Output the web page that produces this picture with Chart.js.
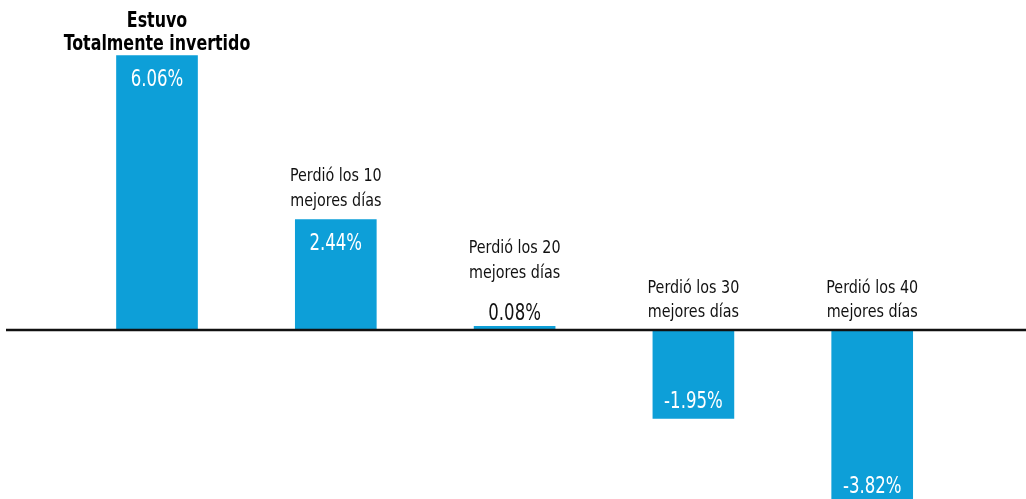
<!DOCTYPE html>
<html>
<head>
<meta charset="utf-8">
<script src="https://cdn.jsdelivr.net/npm/chart.js@4.4.0/dist/chart.umd.min.js"></script>
<style>
  html, body { margin: 0; padding: 0; background: #ffffff; }
  #wrap { width: 1026px; height: 499px; position: relative; }
</style>
</head>
<body>
<div id="wrap"><canvas id="c"></canvas></div>
<script>
const categories = [
  ["Estuvo", "Totalmente invertido"],
  ["Perdió los 10", "mejores días"],
  ["Perdió los 20", "mejores días"],
  ["Perdió los 30", "mejores días"],
  ["Perdió los 40", "mejores días"]
];
const values = [6.06, 2.44, 0.08, -1.95, -3.82];
const valueLabels = ["6.06%", "2.44%", "0.08%", "-1.95%", "-3.82%"];

const FONT = '"Liberation Sans Narrow", "DejaVu Sans Condensed", "Arial Narrow", sans-serif';
const BLUE = '#0d9fd8';

function narrowText(ctx, text, x, y, sx) {
  ctx.save();
  ctx.translate(x, y);
  ctx.scale(sx, 1);
  ctx.fillText(text, 0, 0);
  ctx.restore();
}

const labelPlugin = {
  id: 'labelPlugin',
  afterDatasetsDraw(chart) {
    const ctx = chart.ctx;
    const meta = chart.getDatasetMeta(0);
    const yScale = chart.scales.y;
    const zeroY = yScale.getPixelForValue(0);
    ctx.save();
    ctx.strokeStyle = '#111111';
    ctx.lineWidth = 2.5;
    ctx.beginPath();
    ctx.moveTo(6, zeroY);
    ctx.lineTo(chart.width, zeroY);
    ctx.stroke();

    ctx.textAlign = 'center';
    ctx.textBaseline = 'alphabetic';
    const SV = 0.80, SC = 0.86, ST = 0.84;
    meta.data.forEach((bar, i) => {
      const v = values[i];
      const x = bar.x;
      const top = Math.min(bar.y, zeroY);
      const cat = categories[i];
      if (i === 0) {
        ctx.fillStyle = '#000000';
        ctx.font = 'bold 21px ' + FONT;
        narrowText(ctx, cat[0], x, top - 28, ST);
        narrowText(ctx, cat[1], x, top - 5, ST);
      }
      if (v >= 0.5) {
        ctx.fillStyle = '#ffffff';
        ctx.font = '23px ' + FONT;
        narrowText(ctx, valueLabels[i], x, bar.y + 31, SV);
        if (i !== 0) {
          ctx.fillStyle = '#111111';
          ctx.font = '18.5px ' + FONT;
          narrowText(ctx, cat[0], x, top - 38, SC);
          narrowText(ctx, cat[1], x, top - 13.5, SC);
        }
      } else if (v >= 0) {
        ctx.fillStyle = '#111111';
        ctx.font = '23px ' + FONT;
        narrowText(ctx, valueLabels[i], x, bar.y - 6, SV);
        ctx.font = '18.5px ' + FONT;
        narrowText(ctx, cat[0], x, bar.y - 73, SC);
        narrowText(ctx, cat[1], x, bar.y - 48, SC);
      } else {
        ctx.fillStyle = '#111111';
        ctx.font = '18.5px ' + FONT;
        narrowText(ctx, cat[0], x, zeroY - 37, SC);
        narrowText(ctx, cat[1], x, zeroY - 12.5, SC);
        ctx.fillStyle = '#ffffff';
        ctx.font = '23px ' + FONT;
        narrowText(ctx, valueLabels[i], x, bar.y - 10.5, SV);
      }
    });
    ctx.restore();
  }
};

new Chart(document.getElementById('c'), {
  type: 'bar',
  data: {
    labels: categories.map(c => c.join(' ')),
    datasets: [{
      data: values,
      backgroundColor: BLUE,
      borderWidth: 0,
      barThickness: 81
    }]
  },
  options: {
    responsive: true,
    maintainAspectRatio: false,
    animation: false,
    devicePixelRatio: 1,
    layout: { padding: { left: 67.6, right: 64.4, top: 0, bottom: 0 } },
    plugins: { legend: { display: false }, tooltip: { enabled: false } },
    scales: {
      x: { display: false, offset: true },
      y: { display: false, min: -3.731, max: 7.285 }
    }
  },
  plugins: [labelPlugin]
});
</script>
</body>
</html>
